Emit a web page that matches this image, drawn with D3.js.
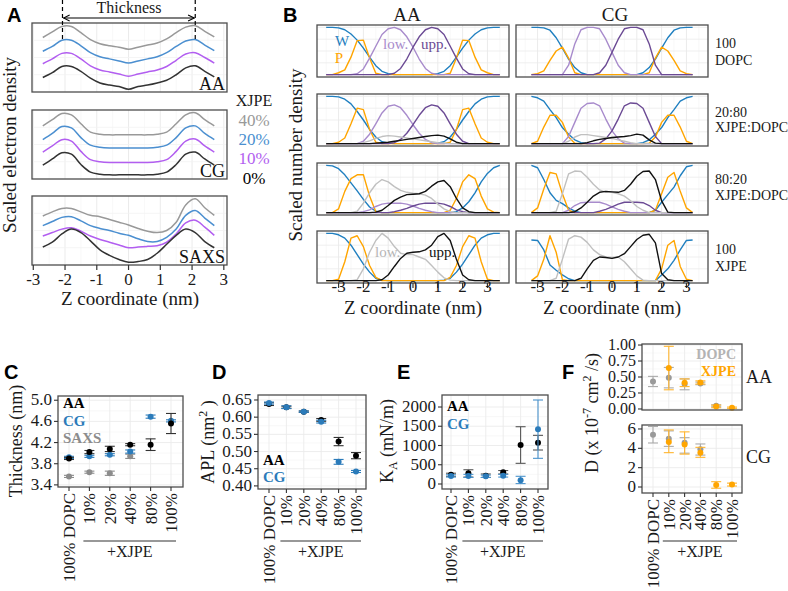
<!DOCTYPE html>
<meta charset="utf-8">
<style>
  body { margin: 0; background: #fff; }
  svg { font-family: "Liberation Serif", "Times New Roman", serif; }
</style>
<body>
<svg id="fig" width="788" height="591"></svg>
<script src="https://cdn.jsdelivr.net/npm/d3@7/dist/d3.min.js"></script>
<script>
// ---- panel A : electron density profiles (stacked, scaled) ----
const zA = [-2.7,-2.4,-2.1,-1.8,-1.5,-1.2,-0.9,-0.6,-0.3,0,0.3,0.6,0.9,1.2,1.5,1.8,2.1,2.4,2.7];
const edAA40 = [0.79,0.87,0.95,0.95,0.86,0.76,0.70,0.67,0.65,0.62,0.65,0.68,0.71,0.77,0.86,0.94,0.96,0.88,0.80];
const edAA20 = [0.59,0.66,0.75,0.75,0.67,0.57,0.51,0.48,0.45,0.42,0.45,0.48,0.51,0.57,0.66,0.74,0.76,0.68,0.60];
const edAA10 = [0.41,0.48,0.56,0.56,0.48,0.38,0.32,0.29,0.26,0.23,0.26,0.29,0.32,0.37,0.46,0.55,0.57,0.50,0.42];
const edAA0  = [0.21,0.28,0.37,0.37,0.30,0.20,0.13,0.10,0.08,0.04,0.08,0.10,0.13,0.17,0.25,0.35,0.38,0.30,0.22];
const edCG40 = [0.77,0.86,0.95,0.93,0.80,0.68,0.65,0.64,0.64,0.64,0.64,0.64,0.65,0.68,0.80,0.93,0.96,0.86,0.77];
const edCG20 = [0.57,0.66,0.76,0.74,0.60,0.49,0.46,0.45,0.45,0.45,0.45,0.45,0.46,0.49,0.60,0.74,0.77,0.66,0.57];
const edCG10 = [0.39,0.48,0.57,0.55,0.40,0.28,0.25,0.24,0.24,0.24,0.24,0.24,0.25,0.28,0.40,0.55,0.58,0.48,0.39];
const edCG0  = [0.20,0.29,0.38,0.36,0.21,0.10,0.07,0.06,0.06,0.06,0.06,0.06,0.07,0.10,0.21,0.36,0.39,0.29,0.20];
const edSX40 = [0.71,0.77,0.82,0.82,0.77,0.72,0.70,0.66,0.62,0.58,0.53,0.49,0.47,0.50,0.62,0.87,0.96,0.83,0.72];
const edSX20 = [0.57,0.63,0.69,0.70,0.64,0.57,0.53,0.50,0.46,0.43,0.38,0.34,0.34,0.40,0.52,0.72,0.79,0.68,0.57];
const edSX10 = [0.42,0.47,0.52,0.54,0.49,0.42,0.37,0.33,0.29,0.25,0.26,0.27,0.28,0.33,0.45,0.61,0.65,0.55,0.43];
const edSX0  = [0.26,0.33,0.45,0.52,0.47,0.35,0.22,0.14,0.08,0.04,0.05,0.08,0.17,0.30,0.43,0.52,0.47,0.34,0.25];
const xjpeLevels = ["40%","20%","10%","0%"];
const thicknessEdges = [-2.08, 2.1];

// ---- panel B : number density per group ----
const zAA = [-3.5,-3.25,-3,-2.75,-2.5,-2.25,-2,-1.75,-1.5,-1.25,-1,-0.75,-0.5,-0.25,0,0.25,0.5,0.75,1,1.25,1.5,1.75,2,2.25,2.5,2.75,3,3.25,3.5];
const zCG = [-3.25,-3,-2.75,-2.5,-2.25,-2,-1.75,-1.5,-1.25,-1,-0.75,-0.5,-0.25,0,0.25,0.5,0.75,1,1.25,1.5,1.75,2,2.25,2.5,2.75,3,3.25];

const wAA1 = [1,1,0.99,0.95,0.86,0.73,0.56,0.37,0.19,0.07,0.02,0,0,0,0,0,0,0,0.02,0.07,0.19,0.37,0.56,0.73,0.86,0.95,0.99,1,1];
const pAA1 = [0,0,0.04,0.1,0.37,0.72,0.73,0.35,0.03,0,0,0,0,0,0,0,0,0,0,0,0.03,0.35,0.73,0.72,0.37,0.1,0.04,0,0];
const lowAA1 = [0,0,0,0,0,0.02,0.12,0.35,0.6,0.85,0.97,1,0.95,0.8,0.58,0.33,0.13,0.03,0,0,0,0,0,0,0,0,0,0,0];
const uppAA1 = [0,0,0,0,0,0,0,0,0,0,0,0.03,0.13,0.33,0.58,0.8,0.95,1,0.97,0.85,0.6,0.35,0.12,0.02,0,0,0,0,0];

const wAA2 = [1,1,0.99,0.94,0.84,0.68,0.5,0.3,0.14,0.04,0.01,0,0,0,0,0,0,0,0.01,0.04,0.14,0.3,0.5,0.68,0.84,0.94,0.99,1,1];
const pAA2 = [0,0,0.03,0.12,0.42,0.75,0.72,0.3,0.03,0,0,0,0,0,0,0,0,0,0,0,0.03,0.3,0.72,0.75,0.42,0.12,0.03,0,0];
const lowAA2 = [0,0,0,0,0,0,0.05,0.2,0.42,0.65,0.79,0.82,0.76,0.6,0.4,0.22,0.09,0.02,0,0,0,0,0,0,0,0,0,0,0];
const uppAA2 = [0,0,0,0,0,0,0,0,0,0,0,0.02,0.09,0.22,0.4,0.6,0.76,0.82,0.79,0.65,0.42,0.2,0.05,0,0,0,0,0,0];
const xlowAA2 = [0,0,0,0,0,0,0.02,0.06,0.11,0.15,0.17,0.16,0.14,0.12,0.1,0.08,0.06,0.04,0.02,0.01,0,0,0,0,0,0,0,0,0];
const xuppAA2 = [0,0,0,0,0,0,0,0,0.01,0.02,0.03,0.05,0.07,0.09,0.11,0.13,0.15,0.17,0.18,0.16,0.1,0.03,0,0,0,0,0,0,0];

const wAA3 = [1,0.99,0.93,0.8,0.63,0.46,0.28,0.12,0.03,0,0,0,0,0,0,0,0,0,0,0,0,0.02,0.1,0.23,0.42,0.65,0.83,0.95,1];
const pAA3 = [0,0,0.08,0.45,0.72,0.8,0.8,0.35,0.02,0,0,0,0,0,0,0,0,0,0,0,0.05,0.3,0.65,0.8,0.72,0.35,0.08,0.01,0];
const lowAA3 = [0,0,0,0,0,0,0.02,0.06,0.13,0.18,0.2,0.2,0.2,0.18,0.14,0.09,0.05,0.02,0,0,0,0,0,0,0,0,0,0,0];
const uppAA3 = [0,0,0,0,0,0,0,0,0,0,0,0.02,0.05,0.09,0.14,0.18,0.2,0.2,0.2,0.18,0.13,0.06,0.02,0,0,0,0,0,0];
const xlowAA3 = [0,0,0,0,0,0.03,0.2,0.42,0.6,0.7,0.65,0.55,0.47,0.43,0.41,0.4,0.37,0.3,0.18,0.08,0.02,0,0,0,0,0,0,0,0];
const xuppAA3 = [0,0,0,0,0,0,0,0,0.01,0.05,0.15,0.26,0.33,0.38,0.39,0.4,0.45,0.56,0.65,0.68,0.55,0.3,0.1,0.02,0,0,0,0,0];

const wAA4 = [1,1,0.97,0.9,0.75,0.55,0.35,0.18,0.05,0.01,0,0,0,0,0,0,0,0,0,0.01,0.05,0.18,0.35,0.55,0.75,0.9,0.97,1,1];
const pAA4 = [0,0,0.03,0.4,0.9,0.95,0.72,0.32,0.07,0,0,0,0,0,0,0,0,0,0,0,0.07,0.32,0.72,0.95,0.9,0.4,0.03,0,0];
const xlowAA4 = [0,0,0,0,0,0.02,0.25,0.6,0.85,1,0.9,0.72,0.58,0.55,0.55,0.5,0.45,0.32,0.18,0.06,0.01,0,0,0,0,0,0,0,0];
const xuppAA4 = [0,0,0,0,0,0,0,0,0,0.02,0.12,0.3,0.47,0.58,0.6,0.61,0.65,0.75,0.93,1,0.85,0.45,0.12,0.02,0,0,0,0,0];

const wCG1 = [1,1,0.99,0.94,0.78,0.56,0.33,0.15,0.04,0,0,0,0,0,0,0,0,0,0.04,0.15,0.33,0.56,0.78,0.94,0.99,1,1];
const pCG1 = [0,0.02,0.08,0.3,0.5,0.58,0.35,0.04,0,0,0,0,0,0,0,0,0,0,0,0.04,0.35,0.58,0.5,0.3,0.08,0.02,0];
const lowCG1 = [0,0,0,0,0,0,0.2,0.65,0.95,1,1,0.97,0.75,0.47,0.2,0.04,0,0,0,0,0,0,0,0,0,0,0];
const uppCG1 = [0,0,0,0,0,0,0,0,0,0,0,0.04,0.2,0.47,0.75,0.97,1,1,0.95,0.65,0.2,0,0,0,0,0,0];

const wCG2 = [1,0.97,0.9,0.72,0.55,0.34,0.2,0.08,0.02,0,0,0,0,0,0,0,0,0,0.02,0.08,0.2,0.34,0.55,0.72,0.9,0.97,1];
const pCG2 = [0,0.05,0.35,0.6,0.6,0.45,0.14,0.01,0,0,0,0,0,0,0,0,0,0,0,0.01,0.14,0.45,0.6,0.6,0.35,0.05,0];
const lowCG2 = [0,0,0,0,0,0,0.15,0.45,0.75,0.85,0.86,0.8,0.52,0.27,0.1,0.01,0,0,0,0,0,0,0,0,0,0,0];
const uppCG2 = [0,0,0,0,0,0,0,0,0,0,0,0.01,0.1,0.27,0.52,0.8,0.86,0.85,0.75,0.45,0.15,0,0,0,0,0,0];
const xlowCG2 = [0,0,0,0,0,0,0.05,0.14,0.19,0.19,0.17,0.15,0.13,0.11,0.08,0.05,0.02,0,0,0,0,0,0,0,0,0,0];
const xuppCG2 = [0,0,0,0,0,0,0,0,0,0.02,0.06,0.09,0.11,0.13,0.14,0.15,0.17,0.2,0.18,0.08,0.01,0,0,0,0,0,0];

const wCG3 = [1,0.95,0.7,0.42,0.26,0.19,0.1,0.03,0,0,0,0,0,0,0,0,0,0,0,0,0.05,0.22,0.38,0.54,0.78,0.97,1];
const pCG3 = [0,0.1,0.5,0.85,0.82,0.4,0.05,0,0,0,0,0,0,0,0,0,0,0,0,0,0.05,0.4,0.75,0.85,0.45,0.1,0];
const lowCG3 = [0,0,0,0,0,0,0.05,0.15,0.21,0.22,0.22,0.22,0.18,0.12,0.07,0.03,0,0,0,0,0,0,0,0,0,0,0];
const uppCG3 = [0,0,0,0,0,0,0,0,0,0,0,0.03,0.07,0.12,0.18,0.22,0.22,0.22,0.21,0.15,0.05,0,0,0,0,0,0];
const xlowCG3 = [0,0,0,0,0.03,0.4,0.82,0.88,0.87,0.75,0.6,0.48,0.43,0.43,0.4,0.35,0.25,0.13,0.05,0,0,0,0,0,0,0,0];
const xuppCG3 = [0,0,0,0,0,0,0,0.02,0.1,0.22,0.35,0.43,0.45,0.44,0.43,0.47,0.6,0.77,0.87,0.88,0.7,0.25,0.01,0,0,0,0];

const wCG4 = [0.86,0.85,0.65,0.33,0.22,0.12,0.04,0,0,0,0,0,0,0,0,0,0,0,0,0,0,0.12,0.25,0.43,0.65,0.85,0.86];
const pCG4 = [0,0.1,0.45,0.95,0.6,0.02,0,0,0,0,0,0,0,0,0,0,0,0,0,0,0,0.25,0.75,0.85,0.3,0.03,0];
const xlowCG4 = [0,0,0,0,0.05,0.45,0.88,0.95,0.92,0.81,0.65,0.55,0.5,0.49,0.5,0.4,0.25,0.1,0.01,0,0,0,0,0,0,0,0];
const xuppCG4 = [0,0,0,0,0,0,0,0,0.05,0.25,0.43,0.5,0.49,0.47,0.5,0.57,0.72,0.87,0.96,0.98,0.8,0.15,0.02,0,0,0,0];

const bRowNames = [["100","DOPC"],["20:80","XJPE:DOPC"],["80:20","XJPE:DOPC"],["100","XJPE"]];

// ---- panels C-F ----
const cats = ["100% DOPC","10%","20%","40%","80%","100%"];
const thickAA = [3.90,4.02,4.08,4.16,4.16,4.56];
const thickAAerr = [0.02,0.03,0.05,0.02,0.11,0.19];
const thickCG = [3.92,3.94,3.97,4.03,4.69,4.61];
const thickCGerr = [0.02,0.02,0.02,0.03,0.03,0.02];
const thickSAXS = [3.56,3.64,3.62,3.94,null,null];
const thickSAXSerr = [0.02,0.02,0.04,0.04,null,null];

const aplAA = [0.638,0.629,0.616,0.592,0.529,0.488];
const aplAAerr = [0.004,0.003,0.002,0.004,0.012,0.009];
const aplCG = [0.641,0.629,0.616,0.587,0.470,0.442];
const aplCGerr = [0.003,0.004,0.002,0.004,0.007,0.003];

const kaAA = [240,278,216,304,1013,1073];
const kaAAlo = [200,180,170,260,537,883];
const kaAAhi = [280,370,260,350,1488,1264];
const kaCG = [210,210,200,216,100,1420];
const kaCGlo = [180,170,170,180,10,667];
const kaCGhi = [240,250,230,250,200,2182];

const dAAdopc = [0.43,0.49,0.39,0.40,0.05,null];
const dAAdopcLo = [0.35,0.33,0.30,0.38,0.035,null];
const dAAdopcHi = [0.51,0.65,0.47,0.42,0.065,null];
const dAAxjpe = [null,0.64,0.41,0.415,0.04,0.02];
const dAAxjpeLo = [null,0.30,0.35,0.39,0.02,0.01];
const dAAxjpeHi = [null,0.98,0.47,0.44,0.06,0.03];
const dCGdopc = [5.4,5.0,4.58,3.9,null,null];
const dCGdopcLo = [4.55,4.2,3.5,3.3,null,null];
const dCGdopcHi = [6.25,5.8,5.1,4.45,null,null];
const dCGxjpe = [null,4.65,4.4,3.55,0.2,0.25];
const dCGxjpeLo = [null,3.55,3.4,3.07,-0.13,0.1];
const dCGxjpeHi = [null,5.9,5.7,4.1,0.55,0.4];

// ------------------------------------------------------------------
const svg = d3.select("#fig");
const ink = "#1a1a1a", border = "#4d4d4d", gridCol = "#ebebeb";

function txt(x, y, s, size, o) {
  o = o || {};
  const t = svg.append("text").attr("x", x).attr("y", y).text(s)
    .attr("font-size", size).attr("fill", o.fill || ink)
    .attr("text-anchor", o.anchor || "start");
  if (o.bold) t.attr("font-weight", "bold");
  if (o.rot) t.attr("transform", "rotate(-90," + x + "," + y + ")");
  if (o.sans) t.attr("font-family", '"Liberation Sans", Arial, sans-serif');
  return t;
}
function frame(x0, y0, w, h) {
  svg.append("rect").attr("x", x0).attr("y", y0).attr("width", w).attr("height", h)
    .attr("fill", "none").attr("stroke", border).attr("stroke-width", 1.3);
}
function vlines(xs, y0, y1, col, sw) {
  svg.append("g").selectAll("line").data(xs).join("line")
    .attr("x1", d => d).attr("x2", d => d).attr("y1", y0).attr("y2", y1)
    .attr("stroke", col).attr("stroke-width", sw);
}
function hlines(ys, x0, x1, col, sw) {
  svg.append("g").selectAll("line").data(ys).join("line")
    .attr("y1", d => d).attr("y2", d => d).attr("x1", x0).attr("x2", x1)
    .attr("stroke", col).attr("stroke-width", sw);
}

// panel letters
[["A",7,22],["B",283,22],["C",4,379],["D",212,379],["E",397,379],["F",562,379]]
  .forEach(d => txt(d[1], d[2], d[0], 20, {bold: true, sans: true, fill: "#000"}));

// ================= A =================
const ax = d3.scaleLinear().domain([-3.04, 3.1]).range([32, 227]);
const aColors = ["#999999", "#4b8fd0", "#b25ef0", "#333333"];
const aRows = [
  {y0: 23, name: "AA", curves: [edAA40, edAA20, edAA10, edAA0]},
  {y0: 110, name: "CG", curves: [edCG40, edCG20, edCG10, edCG0]},
  {y0: 196, name: "SAXS", curves: [edSX40, edSX20, edSX10, edSX0]}
];
aRows.forEach(r => {
  const ay = d3.scaleLinear().domain([0, 1]).range([r.y0 + 69, r.y0]);
  vlines([-2.5,-1.5,-0.5,0.5,1.5,2.5].map(ax), r.y0, r.y0 + 69, "#f4f4f4", 0.6);
  vlines([-3,-2,-1,0,1,2,3].map(ax), r.y0, r.y0 + 69, gridCol, 1);
  hlines([0.25, 0.5, 0.75].map(ay), 32, 227, "#f2f2f2", 0.8);
  const line = d3.line().x((d, i) => ax(zA[i])).y(d => ay(d)).curve(d3.curveCatmullRom);
  r.curves.forEach((c, k) => svg.append("path").attr("d", line(c)).attr("fill", "none")
    .attr("stroke", aColors[k]).attr("stroke-width", 1.5));
  frame(32, r.y0, 195, 69);
  txt(225, r.y0 + 67, r.name, 18, {anchor: "end", fill: "#111"});
});
// x axis of A
const axTicks = [-3,-2,-1,0,1,2,3];
svg.append("g").selectAll("line").data(axTicks).join("line")
  .attr("x1", d => ax(d)).attr("x2", d => ax(d)).attr("y1", 265).attr("y2", 270)
  .attr("stroke", "#333").attr("stroke-width", 1.2);
axTicks.forEach(d => txt(ax(d), 285, String(d), 17, {anchor: "middle"}));
txt(130, 305, "Z coordinate (nm)", 19, {anchor: "middle"});
txt(16, 145, "Scaled electron density", 19, {anchor: "middle", rot: true});

// thickness marker
svg.append("defs").append("marker").attr("id", "arr").attr("viewBox", "0 0 10 10")
  .attr("refX", 9).attr("refY", 5).attr("markerWidth", 7).attr("markerHeight", 7)
  .attr("orient", "auto-start-reverse")
  .append("path").attr("d", "M1,1 L9,5 L1,9").attr("fill", "none").attr("stroke", "#000").attr("stroke-width", 1.4);
thicknessEdges.forEach(z => svg.append("line").attr("x1", ax(z)).attr("x2", ax(z))
  .attr("y1", 0).attr("y2", 42).attr("stroke", "#000").attr("stroke-width", 1.2)
  .attr("stroke-dasharray", "4,3"));
svg.append("line").attr("x1", ax(thicknessEdges[0]) + 1).attr("x2", ax(thicknessEdges[1]) - 1)
  .attr("y1", 18).attr("y2", 18).attr("stroke", "#000").attr("stroke-width", 1.1)
  .attr("marker-start", "url(#arr)").attr("marker-end", "url(#arr)");
txt(129, 13, "Thickness", 16, {anchor: "middle"});

// legend of A
txt(254, 106, "XJPE", 16, {anchor: "middle"});
xjpeLevels.forEach((l, i) => txt(254, [126, 145, 164, 184][i], l, 17, {anchor: "middle", fill: aColors[i] === "#333333" ? "#000" : aColors[i]}));

// ================= B =================
const bColors = {W: "#1f7fc0", P: "#ffa500", low: "#a88bcc", upp: "#6b4a94", xlow: "#c0c0c0", xupp: "#111111"};
const bOrder = ["W", "P", "low", "upp", "xlow", "xupp"];
const bPanels = [
  [{W: wAA1, P: pAA1, low: lowAA1, upp: uppAA1},
   {W: wCG1, P: pCG1, low: lowCG1, upp: uppCG1}],
  [{W: wAA2, P: pAA2, low: lowAA2, upp: uppAA2, xlow: xlowAA2, xupp: xuppAA2},
   {W: wCG2, P: pCG2, low: lowCG2, upp: uppCG2, xlow: xlowCG2, xupp: xuppCG2}],
  [{W: wAA3, P: pAA3, low: lowAA3, upp: uppAA3, xlow: xlowAA3, xupp: xuppAA3},
   {W: wCG3, P: pCG3, low: lowCG3, upp: uppCG3, xlow: xlowCG3, xupp: xuppCG3}],
  [{W: wAA4, P: pAA4, xlow: xlowAA4, xupp: xuppAA4},
   {W: wCG4, P: pCG4, xlow: xlowCG4, xupp: xuppCG4}]
];
const bCols = [{x0: 317, z: zAA, title: "AA", tx: 407}, {x0: 516, z: zCG, title: "CG", tx: 615}];
const bRowY = [25, 94, 163, 231], bW = 192, bH = 52;

bCols.forEach((col, ci) => {
  const bx = d3.scaleLinear().domain([-3.87, 3.87]).range([col.x0, col.x0 + bW]);
  txt(col.tx, 21, col.title, 19, {anchor: "middle"});
  bRowY.forEach((y0, ri) => {
    const by = d3.scaleLinear().domain([-0.05, 1.05]).range([y0 + bH, y0]);
    vlines([-3.5,-2.5,-1.5,-0.5,0.5,1.5,2.5,3.5].map(bx), y0, y0 + bH, "#f4f4f4", 0.6);
    vlines([-3,-2,-1,0,1,2,3].map(bx), y0, y0 + bH, gridCol, 1);
    hlines([0.25, 0.5, 0.75, 1].map(by), col.x0, col.x0 + bW, gridCol, 0.8);
    const line = d3.line().x((d, i) => bx(col.z[i])).y(d => by(d));
    const pnl = bPanels[ri][ci];
    bOrder.forEach(k => {
      if (!pnl[k]) return;
      svg.append("path").attr("d", line(pnl[k])).attr("fill", "none")
        .attr("stroke", bColors[k]).attr("stroke-width", 1.4).attr("stroke-linejoin", "round");
    });
    frame(col.x0, y0, bW, bH);
  });
  const ticks = [-3,-2,-1,0,1,2,3];
  svg.append("g").selectAll("line").data(ticks).join("line")
    .attr("x1", d => bx(d)).attr("x2", d => bx(d)).attr("y1", 283).attr("y2", 288)
    .attr("stroke", "#333").attr("stroke-width", 1.2);
  ticks.forEach(d => txt(bx(d), 292, String(d), 17, {anchor: "middle"}));
  txt(bx(0), 314, "Z coordinate (nm)", 19, {anchor: "middle"});
});
bRowNames.forEach((n, i) => {
  txt(715, [48, 117, 184, 254][i], n[0], 14);
  txt(715, [65, 132, 200, 271][i], n[1], 14);
});
txt(302, 155, "Scaled number density", 19, {anchor: "middle", rot: true});
// in-panel labels
txt(342, 46, "W", 15, {anchor: "middle", fill: bColors.W});
txt(339, 63, "P", 15, {anchor: "middle", fill: bColors.P});
txt(383, 49, "low.", 15, {fill: bColors.low});
txt(421, 49, "upp.", 15, {fill: bColors.upp});
txt(375, 257, "low.", 15, {fill: "#b5b5b5"});
txt(429, 257, "upp.", 15, {fill: "#111"});

// ================= C-F =================
function dotPanel(p) {
  const x = d3.scalePoint().domain(cats).range(p.xr);
  const y = d3.scaleLinear().domain(p.ydom).range([p.y0 + p.h, p.y0]);
  const minor = [];
  for (let i = 0; i < p.ticks.length - 1; i++) minor.push((p.ticks[i] + p.ticks[i + 1]) / 2);
  hlines(minor.map(y), p.x0, p.x0 + p.w, "#f4f4f4", 0.6);
  hlines(p.ticks.map(y), p.x0, p.x0 + p.w, gridCol, 0.9);
  vlines(cats.map(x), p.y0, p.y0 + p.h, gridCol, 0.9);
  p.series.forEach(s => {
    cats.forEach((c, i) => {
      if (s.m[i] == null) return;
      const lo = s.lo ? s.lo[i] : s.m[i] - s.err[i];
      const hi = s.hi ? s.hi[i] : s.m[i] + s.err[i];
      const g = svg.append("g").attr("stroke", s.ecol || s.col).attr("stroke-width", 1.1);
      g.append("line").attr("x1", x(c)).attr("x2", x(c)).attr("y1", y(lo)).attr("y2", y(hi));
      g.append("line").attr("x1", x(c) - 5).attr("x2", x(c) + 5).attr("y1", y(lo)).attr("y2", y(lo));
      g.append("line").attr("x1", x(c) - 5).attr("x2", x(c) + 5).attr("y1", y(hi)).attr("y2", y(hi));
      svg.append("circle").attr("cx", x(c)).attr("cy", y(s.m[i])).attr("r", 3).attr("fill", s.col);
    });
  });
  frame(p.x0, p.y0, p.w, p.h);
  svg.append("g").selectAll("line").data(p.ticks).join("line")
    .attr("x1", p.x0 - 4).attr("x2", p.x0).attr("y1", d => y(d)).attr("y2", d => y(d))
    .attr("stroke", "#333").attr("stroke-width", 1.1);
  const fs = p.tickSize || 17;
  p.ticks.forEach(t => txt(p.x0 - 6, y(t) + fs * 0.3, p.fmt(t), fs, {anchor: "end"}));
  if (p.showX) {
    const yb = p.y0 + p.h;
    svg.append("g").selectAll("line").data(cats).join("line")
      .attr("x1", d => x(d)).attr("x2", d => x(d)).attr("y1", yb).attr("y2", yb + 4)
      .attr("stroke", "#333").attr("stroke-width", 1.1);
    cats.forEach(c => txt(x(c) + 6, yb + 6, c, 17, {anchor: "end", rot: true}));
    const bx0 = x(cats[1]) - 6, bx1 = x(cats[5]) + 5;
    svg.append("line").attr("x1", bx0).attr("x2", bx1).attr("y1", 541).attr("y2", 541)
      .attr("stroke", "#333").attr("stroke-width", 1.2);
    txt((bx0 + bx1) / 2, 557, "+XJPE", 16, {anchor: "middle"});
  }
  return y;
}

// C
dotPanel({x0: 58, y0: 396, w: 125, h: 91, xr: [69, 171], ydom: [3.36, 5.08],
  ticks: [3.4, 3.8, 4.2, 4.6, 5.0], fmt: d3.format(".1f"), showX: true,
  series: [
    {m: thickSAXS, err: thickSAXSerr, col: "#8c8c8c"},
    {m: thickCG, err: thickCGerr, col: "#2b7bba"},
    {m: thickAA, err: thickAAerr, col: "#000", ecol: "#333"}
  ]});
txt(63, 408, "AA", 15, {bold: true, fill: "#000"});
txt(63, 426, "CG", 15, {bold: true, fill: "#2b7bba"});
txt(63, 443, "SAXS", 15, {bold: true, fill: "#8c8c8c"});
txt(22, 441, "Thickness (nm)", 18, {anchor: "middle", rot: true});

// D
dotPanel({x0: 258, y0: 395, w: 108, h: 94, xr: [269, 356], ydom: [0.391, 0.6645],
  ticks: [0.40, 0.45, 0.50, 0.55, 0.60, 0.65], fmt: d3.format(".2f"), showX: true,
  series: [
    {m: aplAA, err: aplAAerr, col: "#000", ecol: "#333"},
    {m: aplCG, err: aplCGerr, col: "#2b7bba"}
  ]});
txt(263, 465, "AA", 15, {bold: true, fill: "#000"});
txt(263, 482, "CG", 15, {bold: true, fill: "#2b7bba"});
const tD = txt(214, 442, "APL (nm", 18, {anchor: "middle", rot: true});
tD.append("tspan").attr("dy", -7).attr("font-size", 12).text("2");
tD.append("tspan").attr("dy", 7).text(" )");

// E
dotPanel({x0: 442, y0: 395, w: 106, h: 94, xr: [451, 538], ydom: [-130, 2312],
  ticks: [0, 500, 1000, 1500, 2000], fmt: d3.format("d"), showX: true,
  series: [
    {m: kaAA, lo: kaAAlo, hi: kaAAhi, col: "#000", ecol: "#555"},
    {m: kaCG, lo: kaCGlo, hi: kaCGhi, col: "#2b7bba", ecol: "#4a93cc"}
  ]});
txt(447, 411, "AA", 15, {bold: true, fill: "#000"});
txt(447, 429, "CG", 15, {bold: true, fill: "#2b7bba"});
const tE = txt(393, 441, "K", 18, {anchor: "middle", rot: true});
tE.append("tspan").attr("dy", 4).attr("font-size", 12).text("A");
tE.append("tspan").attr("dy", -4).text(" (mN/m)");

// F
dotPanel({x0: 642, y0: 344, w: 100, h: 66, xr: [653, 732], ydom: [-0.016, 1.016],
  ticks: [0, 0.25, 0.5, 0.75, 1.0], fmt: d3.format(".2f"), showX: false, tickSize: 16,
  series: [
    {m: dAAdopc, lo: dAAdopcLo, hi: dAAdopcHi, col: "#9a9a9a", ecol: "#aaaaaa"},
    {m: dAAxjpe, lo: dAAxjpeLo, hi: dAAxjpeHi, col: "#ffa500", ecol: "#ffb52e"}
  ]});
dotPanel({x0: 642, y0: 425, w: 100, h: 68, xr: [653, 732], ydom: [-0.62, 6.41],
  ticks: [0, 2, 4, 6], fmt: d3.format("d"), showX: true,
  series: [
    {m: dCGdopc, lo: dCGdopcLo, hi: dCGdopcHi, col: "#9a9a9a", ecol: "#aaaaaa"},
    {m: dCGxjpe, lo: dCGxjpeLo, hi: dCGxjpeHi, col: "#ffa500", ecol: "#ffb52e"}
  ]});
txt(736, 359, "DOPC", 14, {anchor: "end", bold: true, fill: "#b3b3b3"});
txt(736, 376, "XJPE", 14, {anchor: "end", bold: true, fill: "#ffa500"});
txt(746, 383, "AA", 18);
txt(746, 463, "CG", 18);
const tF = txt(598, 413, "D (x 10", 18, {anchor: "middle", rot: true});
tF.append("tspan").attr("dy", -7).attr("font-size", 12).text("-7");
tF.append("tspan").attr("dy", 7).text(" cm");
tF.append("tspan").attr("dy", -7).attr("font-size", 12).text("2");
tF.append("tspan").attr("dy", 7).text(" /s)");
</script>
</body>
